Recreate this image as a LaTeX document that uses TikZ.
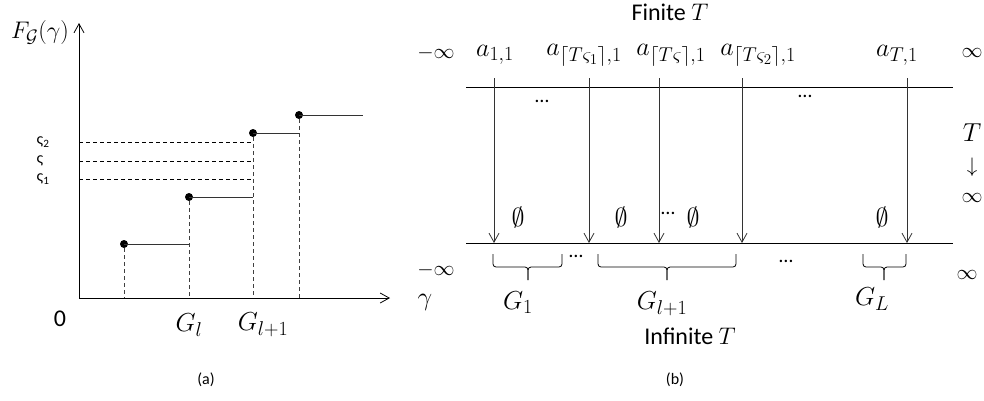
\RequirePackage{fix-cm}
\documentclass[tikz,border=0pt]{standalone}
\usepackage{amsmath,amssymb}
\usepackage{fontspec}
\setmainfont{Carlito}
\usepackage{tikz}
\usetikzlibrary{arrows.meta, positioning, calc}
\DeclareMathSizes{26}{26}{20}{15}
\DeclareMathSizes{24}{24}{18}{14}
\DeclareMathSizes{21}{21}{16}{12}

\tikzset{
  barb/.style={-{Straight Barb[length=9pt,width=10pt]}},
  dashln/.style={dash pattern=on 4pt off 3pt, line width=0.8pt},
  stepln/.style={line width=0.9pt, black!80},
  stepdot/.style={circle, fill=black, inner sep=0pt, minimum size=8pt},
  mathlab/.style={font=\fontsize{26}{30}\selectfont},
  inflab/.style={font=\fontsize{21}{25}\selectfont},
  txtlab/.style={font=\fontsize{24}{28}\selectfont},
  smalllab/.style={font=\fontsize{16}{19}\selectfont},
  dotlab/.style={font=\fontsize{20}{24}\selectfont},
  grp/.style={line width=0.8pt, rounded corners=3pt}
}

\begin{document}
\begin{tikzpicture}[x=1pt, y=-1pt, line width=0.8pt]
    \useasboundingbox (0,0) rectangle (984,400);

    % (a) X and Y Axes
    \coordinate (O) at (79,298);
    \coordinate (xend) at (390,298);
    \coordinate (yend) at (79,23);
    \draw[barb] (O) -- (xend);
    \draw[barb] (O) -- (yend);
    \node[font=\fontsize{24}{28}\selectfont] (Flab) at (40,32) {$F_{\mathcal{G}}(\gamma)$};
    \node[mathlab] (gam) at (425,302) {$\gamma$};
    \node[txtlab] (zero) at (60,319) {0};
    \node[mathlab] (Gl) at (189,325) {$G_l$};
    \node[mathlab] (Glp) at (263,325) {$G_{l+1}$};

    % steps of the distribution
    \foreach \i/\x/\y/\xe in {1/124/244/189, 2/189/197/253, 3/253/133/299, 4/299/115/363} {
        \node[stepdot] (d\i) at (\x,\y) {};
        \coordinate (e\i) at (\xe,\y);
        \coordinate (b\i) at (\x,298);
        \draw[stepln] (d\i.center) -- (e\i);
        \draw[dashln, black!75] (d\i) -- (b\i);
    }

    % levels
    \foreach \n/\y/\t in {l2/142/{ς\textsubscript{2}}, l0/161/ς, l1/179/{ς\textsubscript{1}}} {
        \coordinate (\n a) at (79,\y);
        \coordinate (\n b) at (253,\y);
        \draw[dashln] (\n a) -- (\n b);
        \node[smalllab, anchor=west] (\n) at (33,\y) {\t};
    }

    \node[smalllab] (capa) at (206,380) {(a)};

    % (b) finite and infinite T
    \node[txtlab] (fin) at (670,12) {Finite $T$};
    \node[txtlab] (inf) at (690,336) {Infinite $T$};

    \coordinate (tl) at (466,87);
    \coordinate (tr) at (953,87);
    \coordinate (bl) at (466,243);
    \coordinate (br) at (953,243);
    \draw (tl) -- (tr);
    \draw (bl) -- (br);

    \node[inflab] (mi1) at (436,53) {$-\infty$};
    \node[inflab] (pi1) at (972,53) {$\infty$};
    \node[inflab] (mi2) at (436,270) {$-\infty$};
    \node[inflab] (pi2) at (967,275) {$\infty$};
    \node[mathlab] (Tr) at (972,133) {$T$};
    \node[inflab] (ar) at (972,167) {$\downarrow$};
    \node[inflab] (pi3) at (972,198) {$\infty$};

    % samples
    \node[mathlab] (a1) at (495,55) {$a_{1,1}$};
    \node[mathlab] (a2) at (584,55) {$a_{\lceil T\varsigma_1\rceil,1}$};
    \node[mathlab] (a3) at (671,55) {$a_{\lceil T\varsigma\rceil,1}$};
    \node[mathlab] (a4) at (758,55) {$a_{\lceil T\varsigma_2\rceil,1}$};
    \node[mathlab] (a5) at (897,55) {$a_{T,1}$};

    \foreach \n/\x in {1/494, 2/589, 3/659, 4/742, 5/907} {
        \coordinate (s\n) at (\x,78);
        \coordinate (t\n) at (\x,243);
        \draw[barb, black!80] (s\n) -- (t\n);
    }

    \foreach \n/\x in {1/518, 2/621, 3/693, 4/882}
        \node[mathlab] (em\n) at (\x,217) {$\emptyset$};

    \node[dotlab] (dt1) at (542,101) {…};
    \node[dotlab] (dt2) at (805,96) {…};
    \node[dotlab] (dt3) at (668,213) {…};
    \node[dotlab] (dt4) at (576,256) {…};
    \node[dotlab] (dt5) at (786,261) {…};

    % groups
    \foreach \n/\xa/\xb/\xm in {1/493/562/528, 2/598/736/667, 3/863/906/884} {
        \coordinate (ga\n) at (\xa,254);
        \coordinate (gb\n) at (\xb,254);
        \coordinate (gm\n) at (\xm,267);
        \coordinate (gt\n) at (\xm,280);
        \draw[grp] (ga\n) |- (gm\n) -- (gt\n);
        \draw[grp] (gb\n) |- (gm\n) -- (gt\n);
    }
    \node[mathlab] (G1) at (518,303) {$G_1$};
    \node[mathlab] (Gl1) at (662,304) {$G_{l+1}$};
    \node[mathlab] (GL) at (872,299) {$G_L$};

    \node[smalllab] (capb) at (675,380) {(b)};

\end{tikzpicture}
\end{document}
